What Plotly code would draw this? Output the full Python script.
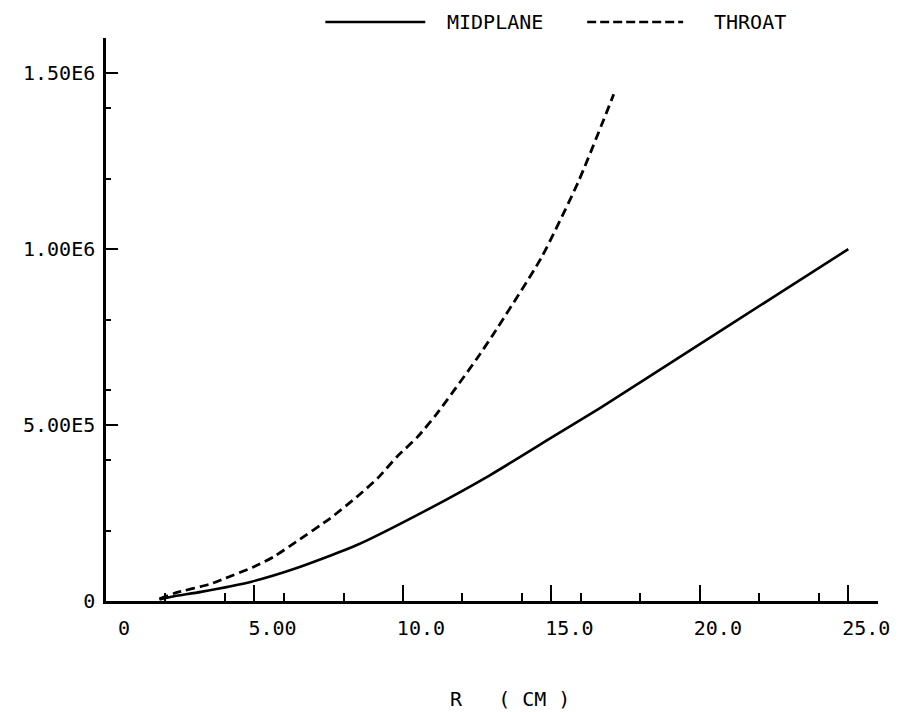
import plotly.graph_objects as go

# Radial profiles (R in cm) at the midplane and at the throat
midplane_r = [1.8, 2.2, 3.2, 4.9, 6.4, 8.45, 10.7, 12.94, 15.0, 16.65, 20.0, 22.5, 25.0]
midplane_v = [4e3, 1.2e4, 2.6e4, 5.5e4, 9.3e4, 1.59e5, 2.54e5, 3.58e5, 4.64e5, 5.49e5,
              7.3e5, 8.65e5, 1.0e6]

throat_r = [1.8, 2.3, 3.5, 4.0, 5.0, 5.65, 6.4, 7.55, 8.45, 9.15, 9.8, 10.5, 11.15,
            12.5, 13.05, 14.65, 15.9, 17.1]
throat_v = [6e3, 2.2e4, 4.8e4, 6.4e4, 9.8e4, 1.26e5, 1.68e5, 2.35e5, 2.96e5, 3.49e5,
            4.10e5, 4.67e5, 5.33e5, 6.9e5, 7.59e5, 9.74e5, 1.19e6, 1.44e6]

x_tickvals = [0, 5, 10, 15, 20, 25]
x_ticktext = ["0", "5.00", "10.0", "15.0", "20.0", "25.0"]
y_tickvals = [0, 5e5, 1e6, 1.5e6]
y_ticktext = ["0", "5.00E5", "1.00E6", "1.50E6"]

FONT = "DejaVu Sans Mono"
FSIZE = 20
INK = "black"

W, H = 901, 712
L, R, T, B = 105.5, 23, 38, 111
pw, ph = W - L - R, H - T - B


def px(xp):
    return (xp - L) / pw


def py(yp):
    return (H - B - yp) / ph


fig = go.Figure()
fig.add_trace(go.Scatter(
    x=midplane_r, y=midplane_v, mode="lines", name="MIDPLANE",
    line=dict(color=INK, width=2.6, shape="spline", smoothing=0.6),
))
fig.add_trace(go.Scatter(
    x=throat_r, y=throat_v, mode="lines", name="THROAT",
    line=dict(color=INK, width=2.8, dash="9px,5px", shape="spline", smoothing=0.6),
))

# Key along the top edge
fig.add_shape(type="line", xref="paper", yref="paper",
              x0=px(325), x1=px(425), y0=py(22), y1=py(22),
              line=dict(color=INK, width=2.5))
fig.add_shape(type="line", xref="paper", yref="paper",
              x0=px(587), x1=px(683), y0=py(22), y1=py(22),
              line=dict(color=INK, width=2.5, dash="9px,4px"))
fig.add_annotation(xref="paper", yref="paper", x=px(445), y=py(22), text="MIDPLANE",
                   showarrow=False, xanchor="left", yanchor="middle",
                   font=dict(family=FONT, size=FSIZE, color=INK))
fig.add_annotation(xref="paper", yref="paper", x=px(712), y=py(22), text="THROAT",
                   showarrow=False, xanchor="left", yanchor="middle",
                   font=dict(family=FONT, size=FSIZE, color=INK))

# Axis title
fig.add_annotation(xref="paper", yref="paper", x=px(448), y=py(699), text="R   ( CM )",
                   showarrow=False, xanchor="left", yanchor="middle",
                   font=dict(family=FONT, size=FSIZE, color=INK))

fig.update_layout(
    width=W, height=H,
    margin=dict(l=L, r=R, t=T, b=B, pad=0),
    paper_bgcolor="white", plot_bgcolor="white",
    showlegend=False,
    font=dict(family=FONT, size=FSIZE, color=INK),
)
fig.update_xaxes(
    range=[0, 26], showgrid=False, zeroline=False,
    showline=True, linecolor=INK, linewidth=2.5,
    tickmode="array", tickvals=x_tickvals, ticktext=x_ticktext,
    ticks="inside", ticklen=16, tickwidth=2, tickcolor=INK,
    ticklabelstandoff=7, ticklabelshift=18,
    minor=dict(dtick=2, tick0=0, ticks="inside", ticklen=8, tickwidth=2, tickcolor=INK,
               showgrid=False),
)
fig.update_yaxes(
    range=[0, 1.6e6], showgrid=False, zeroline=False,
    showline=True, linecolor=INK, linewidth=2.5,
    tickmode="array", tickvals=y_tickvals, ticktext=y_ticktext,
    ticks="inside", ticklen=12, tickwidth=2, tickcolor=INK,
    ticklabelstandoff=4,
    minor=dict(dtick=2e5, tick0=0, ticks="inside", ticklen=5, tickwidth=2, tickcolor=INK,
               showgrid=False),
)

fig.write_html("out.html")
